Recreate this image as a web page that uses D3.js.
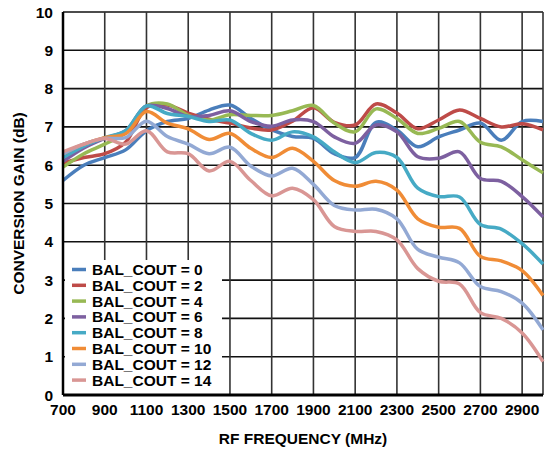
<!DOCTYPE html>
<html>
<head>
<meta charset="utf-8">
<script src="https://cdn.jsdelivr.net/npm/d3@7"></script>
<style>
  body { margin: 0; background: #fff; }
  text { font-family: "Liberation Sans", Arial, sans-serif; font-weight: bold; fill: #000; }
</style>
</head>
<body>
<div id="chart"></div>
<script>
// RF frequency points (MHz)
var freqs = [700, 800, 900, 1000, 1100, 1200, 1300, 1400, 1500, 1600, 1700, 1800,
             1900, 2000, 2100, 2200, 2300, 2400, 2500, 2600, 2700, 2800, 2900, 3000];

// conversion gain (dB) per BAL_COUT setting
var bal0  = [5.6, 6.0, 6.2, 6.4, 6.9, 7.14, 7.22, 7.44, 7.57, 7.22, 6.92, 6.75, 6.7, 6.3, 6.2, 7.12, 6.92, 6.48, 6.74, 6.92, 7.1, 6.65, 7.14, 7.14];
var bal2  = [6.05, 6.2, 6.3, 6.6, 7.5, 7.57, 7.36, 7.2, 7.1, 6.97, 6.92, 7.15, 7.5, 7.12, 7.05, 7.6, 7.36, 6.95, 7.18, 7.44, 7.22, 7.0, 7.08, 6.92];
var bal4  = [5.95, 6.3, 6.55, 6.85, 7.55, 7.6, 7.3, 7.18, 7.32, 7.3, 7.3, 7.42, 7.56, 7.1, 6.87, 7.47, 7.22, 6.83, 6.96, 7.14, 6.6, 6.48, 6.14, 5.8];
var bal6  = [6.1, 6.45, 6.7, 6.9, 7.55, 7.48, 7.27, 7.3, 7.42, 7.14, 7.02, 7.18, 7.14, 6.74, 6.57, 7.05, 6.87, 6.22, 6.18, 6.35, 5.65, 5.58, 5.18, 4.65];
var bal8  = [6.2, 6.5, 6.72, 6.9, 7.55, 7.35, 7.27, 7.14, 7.18, 6.83, 6.65, 6.87, 6.74, 6.35, 6.07, 6.33, 6.2, 5.4, 5.18, 5.17, 4.45, 4.33, 3.95, 3.42];
var bal10 = [6.3, 6.55, 6.72, 6.82, 7.4, 7.1, 6.95, 6.67, 6.83, 6.44, 6.2, 6.44, 6.1, 5.6, 5.45, 5.58, 5.35, 4.6, 4.38, 4.35, 3.62, 3.5, 3.25, 2.6];
var bal12 = [6.3, 6.55, 6.7, 6.72, 7.15, 6.75, 6.55, 6.3, 6.47, 5.98, 5.72, 5.92, 5.5, 4.95, 4.83, 4.85, 4.6, 3.8, 3.6, 3.45, 2.83, 2.7, 2.4, 1.7];
var bal14 = [6.35, 6.55, 6.7, 6.55, 6.9, 6.35, 6.3, 5.85, 6.1, 5.6, 5.2, 5.4, 5.1, 4.4, 4.27, 4.27, 4.05, 3.3, 2.97, 2.9, 2.15, 2.0, 1.62, 0.87];

var seriesNames = ["BAL_COUT = 0", "BAL_COUT = 2", "BAL_COUT = 4", "BAL_COUT = 6",
                   "BAL_COUT = 8", "BAL_COUT = 10", "BAL_COUT = 12", "BAL_COUT = 14"];
var seriesValues = [bal0, bal2, bal4, bal6, bal8, bal10, bal12, bal14];
var colors = ["#4a7ebb", "#be4b48", "#98b954", "#7d60a0", "#46aac5", "#f08c36", "#93a9d4", "#d99694"];

var xTicks = [700, 900, 1100, 1300, 1500, 1700, 1900, 2100, 2300, 2500, 2700, 2900];
var yTicks = [0, 1, 2, 3, 4, 5, 6, 7, 8, 9, 10];

var W = 545, H = 450;
var margin = {top: 12, right: 2, bottom: 55, left: 63};
var width = W - margin.left - margin.right,
    height = H - margin.top - margin.bottom;

var svg = d3.select("#chart").append("svg").attr("width", W).attr("height", H);
var g = svg.append("g").attr("transform", "translate(" + margin.left + "," + margin.top + ")");

var x = d3.scaleLinear().domain([700, 3000]).range([0, width]);
var y = d3.scaleLinear().domain([0, 10]).range([height, 0]);

// grid
g.append("g").selectAll("line").data(yTicks).enter().append("line")
  .attr("x1", 0).attr("x2", width)
  .attr("y1", function(d) { return y(d); }).attr("y2", function(d) { return y(d); })
  .attr("stroke", "#111").attr("stroke-width", 1.6);
g.append("g").selectAll("line").data(xTicks).enter().append("line")
  .attr("x1", function(d) { return x(d); }).attr("x2", function(d) { return x(d); })
  .attr("y1", 0).attr("y2", height)
  .attr("stroke", "#333").attr("stroke-width", 1.6);
g.append("line").attr("x1", width).attr("x2", width).attr("y1", 0).attr("y2", height)
  .attr("stroke", "#333").attr("stroke-width", 1.6);

// curves
var line = d3.line()
  .x(function(d, i) { return x(freqs[i]); })
  .y(function(d) { return y(d); })
  .curve(d3.curveCatmullRom.alpha(0.5));

g.append("g").selectAll("path").data(seriesValues).enter().append("path")
  .attr("d", line)
  .attr("fill", "none")
  .attr("stroke", function(d, i) { return colors[i]; })
  .attr("stroke-width", 3.5)
  .attr("stroke-linejoin", "round");

// legend
var legend = g.append("g");
legend.append("rect").attr("x", 2).attr("y", 248).attr("width", 157).attr("height", height - 249).attr("fill", "#fff");
var items = legend.selectAll("g.item").data(seriesNames).enter().append("g")
  .attr("class", "item")
  .attr("transform", function(d, i) { return "translate(9," + (257.5 + i * 15.8) + ")"; });
items.append("line").attr("x1", 0).attr("x2", 14).attr("y1", 0).attr("y2", 0)
  .attr("stroke", function(d, i) { return colors[i]; }).attr("stroke-width", 3.5);
items.append("text").attr("x", 20).attr("dy", "0.36em").style("font-size", "15.5px").text(function(d) { return d; });

// axes frame
g.append("line").attr("x1", 0).attr("x2", 0).attr("y1", 0).attr("y2", height).attr("stroke", "#000").attr("stroke-width", 2.5);
g.append("line").attr("x1", 0).attr("x2", width).attr("y1", height).attr("y2", height).attr("stroke", "#000").attr("stroke-width", 3);

// tick labels
g.append("g").selectAll("text").data(yTicks).enter().append("text")
  .attr("x", -10).attr("y", function(d) { return y(d); }).attr("dy", "0.36em")
  .attr("text-anchor", "end").style("font-size", "15.5px").text(function(d) { return d; });
g.append("g").selectAll("text").data(xTicks).enter().append("text")
  .attr("x", function(d) { return x(d); }).attr("y", height + 14).attr("dy", "0.36em")
  .attr("text-anchor", "middle").style("font-size", "15.5px").text(function(d) { return d; });

// axis titles
svg.append("text").attr("x", margin.left + width / 2).attr("y", 438).attr("dy", "0.36em")
  .attr("text-anchor", "middle").style("font-size", "15.5px").text("RF FREQUENCY (MHz)");
svg.append("text").attr("transform", "translate(18," + (margin.top + height / 2) + ") rotate(-90)")
  .attr("dy", "0.36em").attr("text-anchor", "middle").style("font-size", "15.5px").text("CONVERSION GAIN (dB)");
</script>
</body>
</html>
